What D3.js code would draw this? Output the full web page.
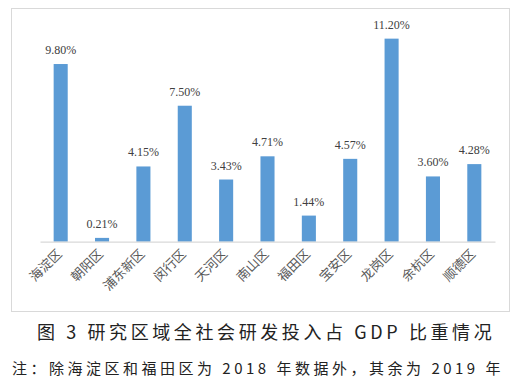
<!DOCTYPE html>
<html>
<head>
<meta charset="utf-8">
<script src="https://cdn.jsdelivr.net/npm/d3@7"></script>
<style>
body { margin: 0; background: #fff; }
text { font-family: "Noto Sans CJK SC", "DejaVu Sans", sans-serif; }
</style>
</head>
<body>
<script>
const districts = ["海淀区", "朝阳区", "浦东新区", "闵行区", "天河区", "南山区", "福田区", "宝安区", "龙岗区", "余杭区", "顺德区"];
const shares = [9.80, 0.21, 4.15, 7.50, 3.43, 4.71, 1.44, 4.57, 11.20, 3.60, 4.28];
const title = "图 3 研究区域全社会研发投入占 GDP 比重情况";
const note = "注：除海淀区和福田区为 2018 年数据外，其余为 2019 年";

const W = 529, H = 385;
const baseline = 241.7;

const svg = d3.select("body").append("svg")
    .attr("width", W)
    .attr("height", H);

// chart frame
svg.append("rect")
    .attr("x", 11.5).attr("y", 8.5)
    .attr("width", 498).attr("height", 303)
    .attr("fill", "#fff")
    .attr("stroke", "#d9d9d9");

const x = d3.scaleBand()
    .domain(districts)
    .range([40, 495])
    .paddingInner(0.66)
    .paddingOuter(0.33);

const y = d3.scaleLinear()
    .domain([0, 12])
    .range([baseline, baseline - 12 * 18.13]);

svg.selectAll(".bar")
    .data(shares)
    .enter().append("rect")
    .attr("class", "bar")
    .attr("x", (d, i) => x(districts[i]))
    .attr("width", x.bandwidth())
    .attr("y", d => y(d))
    .attr("height", d => y(0) - y(d))
    .attr("fill", "#5b9bd5");

svg.selectAll(".val")
    .data(shares)
    .enter().append("text")
    .attr("class", "val")
    .attr("x", (d, i) => x(districts[i]) + x.bandwidth() / 2)
    .attr("y", d => y(d) - 10)
    .attr("text-anchor", "middle")
    .attr("font-size", 12)
    .style("font-family", "'Liberation Serif', 'DejaVu Serif', serif")
    .attr("fill", "#404040")
    .text(d => d.toFixed(2) + "%");

const xAxis = d3.axisBottom(x).tickSize(0).tickPadding(0);
const gx = svg.append("g")
    .attr("transform", "translate(0," + baseline + ")")
    .call(xAxis);
gx.select(".domain").attr("stroke", "#d9d9d9").attr("stroke-width", 1.2);
gx.selectAll(".tick text")
    .attr("font-size", 13)
    .attr("fill", "#595959")
    .attr("text-anchor", "end")
    .attr("dy", 0)
    .attr("transform", "translate(2,13) rotate(-45)");

svg.append("text")
    .attr("x", 37).attr("y", 339)
    .attr("font-size", 18)
    .style("letter-spacing", "3.6px")
    .attr("fill", "#222")
    .text(title);

svg.append("text")
    .attr("x", 12).attr("y", 374)
    .attr("font-size", 15)
    .style("letter-spacing", "3.5px")
    .attr("fill", "#222")
    .text(note);
</script>
</body>
</html>
